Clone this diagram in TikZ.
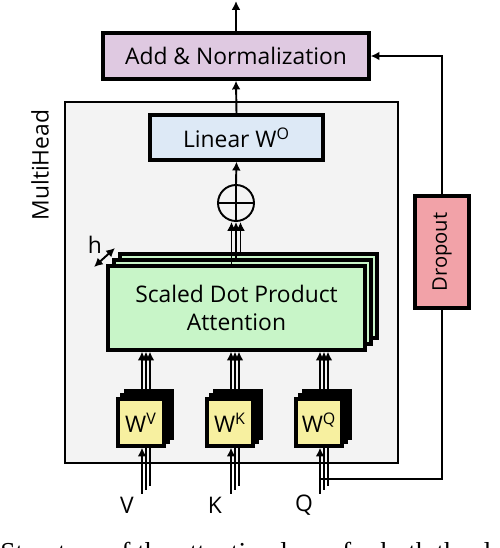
\documentclass[tikz,border=0pt]{standalone}
\usepackage{fontspec}
\setmainfont{Open Sans}
\newfontfamily\capfont{Liberation Serif}
\usetikzlibrary{calc}
\usetikzlibrary{arrows.meta}

\definecolor{addcol}{HTML}{DFC9E1}
\definecolor{lincol}{HTML}{DDE9F6}
\definecolor{attcol}{HTML}{C8F5C8}
\definecolor{wcol}{HTML}{F7F0A0}
\definecolor{dropcol}{HTML}{F2A2A8}
\definecolor{headcol}{HTML}{F3F3F3}

\tikzset{
  blk/.style={draw, line width=1.9pt, inner sep=0pt, align=center, font=\fontsize{13}{16}\selectfont},
  wbox/.style={blk, fill=wcol, minimum width=0.92cm, minimum height=0.94cm},
  attbox/.style={blk, fill=attcol, minimum width=5.14cm, minimum height=1.68cm},
  conn/.style={line width=1.1pt},
  tip/.style={conn, -{Latex[length=5pt,width=5pt]}},
  lbl/.style={inner sep=0pt, font=\fontsize{13}{16}\selectfont},
}

\begin{document}
\begin{tikzpicture}[x=0.02cm, y=-0.02cm]
\useasboundingbox (0,0) rectangle (500,548);

% Drawing frame MultiHead
\node[blk, line width=1.6pt, fill=headcol, minimum width=6.66cm, minimum height=7.22cm] (head) at (231.5,282.5) {};
\node[lbl, rotate=90] (headlbl) at (40,165) {MultiHead};

% Drawing box Add & Normalization
\node[blk, fill=addcol, minimum width=5.32cm, minimum height=0.92cm] (addnorm) at (236,56) {Add \& Normalization};

% Drawing box Linear
\node[blk, fill=lincol, minimum width=3.46cm, minimum height=0.9cm] (linear) at (236.5,137.5) {Linear W\textsuperscript{O}};

% Drawing sum circle
\node[draw, circle, line width=1.1pt, minimum size=0.72cm, inner sep=0pt] (oplus) at (236,203) {};
\draw[conn] (oplus.north) -- (oplus.south) (oplus.west) -- (oplus.east);

% Drawing stack of attention heads
\foreach \i/\s in {3/12,2/6}
  \node[attbox] (sdpa\i) at (236.5+\s,308-\s) {};
\node[attbox] (sdpa1) at (236.5,308) {Scaled Dot Product\\Attention};

% Drawing stacks of projections
\foreach \n/\x in {V/141,K/230,Q/319}{
  \foreach \i/\s in {3/8,2/4}
    \node[wbox] (w\n\i) at (\x+\s,422.5-\s) {};
  \node[wbox] (w\n1) at (\x,422.5) {W\textsuperscript{\n}};
}

% Drawing dropout
\node[blk, fill=dropcol, minimum width=1.08cm, minimum height=2.24cm] (dropout) at (442,252) {};
\node[lbl, rotate=90, font=\fontsize{11.5}{13}\selectfont] (droplbl) at (dropout.center) {Dropout};

% Drawing inputs
\foreach \n/\x in {V/127,K/215,Q/304}{
  \node[lbl] (lbl\n) at (\x,505) {\n};
  \foreach \i/\st in {1/tip,2/conn,3/conn}{
    \coordinate (in\n\i) at ($(w\n\i.south)+(1,46)$);
    \draw[\st] (in\n\i) -- ($(w\n1.south -| w\n\i.south)+(1,0)$);
    \draw[tip] ($(w\n\i.north)+(1,0)$) -- ($(w\n\i.north |- sdpa1.south)+(1,0)$);
  }
}

% Drawing heads into sum
\foreach \i/\dx in {1/-4.5,2/0,3/4.5}
  \draw[tip] ($(oplus.south |- sdpa\i.north)+(\dx,0)$) -- ($(oplus.south)+(\dx,0)$);

% Drawing head count
\coordinate (hA) at (94,267);
\coordinate (hB) at (115,248);
\draw[conn, {Latex[length=5pt,width=5pt]}-{Latex[length=5pt,width=5pt]}] (hA) -- (hB);
\node[lbl] (hlbl) at (95,245) {h};

% Drawing main path
\draw[tip] (oplus.north) -- (linear.south);
\draw[tip] (linear.north) -- (addnorm.south);
\coordinate (out) at (236,1);
\draw[tip] (addnorm.north) -- (out);

% Drawing residual path
\coordinate (resid) at ($(wQ1.south)+(1,31)$);
\draw[conn] (resid) -| (dropout.south);
\draw[tip] (dropout.north) |- (addnorm.east);

% Drawing caption
\begin{scope}
\clip (0,0) rectangle (500,548);
\node[anchor=base west, inner sep=0pt, font=\capfont\fontsize{15.6}{18}\selectfont] (caption) at (0,561) {Structure of the attention layer for both the decoder};
\end{scope}
\end{tikzpicture}
\end{document}
